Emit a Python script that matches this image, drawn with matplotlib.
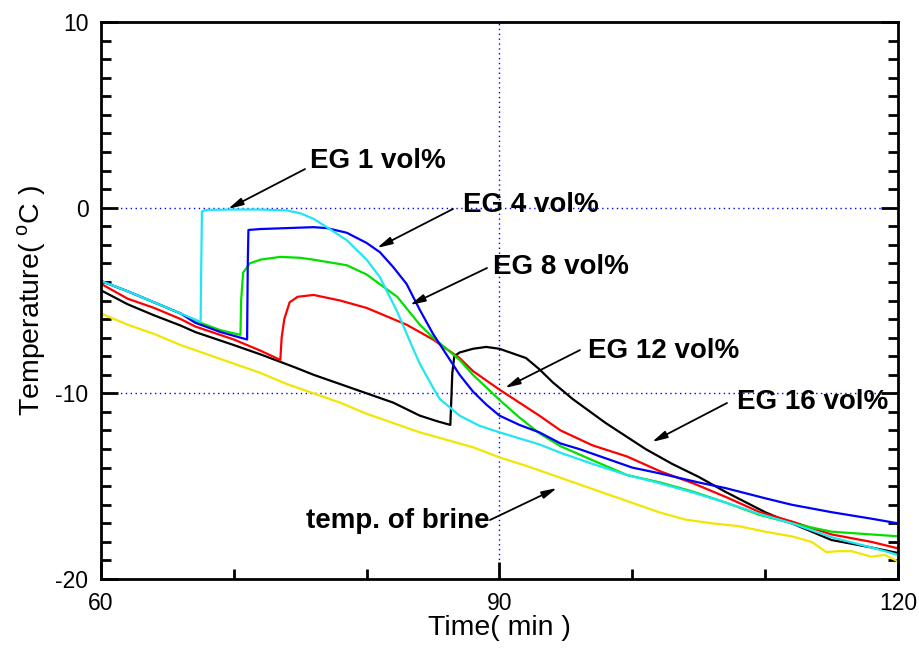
import matplotlib
matplotlib.use('Agg')
import matplotlib.pyplot as plt

plt.rcParams['font.family'] = ['Liberation Sans', 'DejaVu Sans']
plt.rcParams['mathtext.fontset'] = 'custom'
plt.rcParams['mathtext.rm'] = 'Liberation Sans'

# ----------------
#      DATA
# ----------------
# temp. of brine (yellow)
t_brine = [60, 62, 64, 66, 68, 70, 72, 74, 76, 78, 80, 82, 84, 86, 88, 90, 92, 94,
           96, 98, 100, 102, 104, 106, 108, 110, 112, 113.5, 114.6, 115.5, 116.5, 118, 119, 120]
T_brine = [-5.7, -6.3, -6.8, -7.4, -7.9, -8.4, -8.9, -9.5, -10.0, -10.5, -11.1, -11.6,
           -12.1, -12.5, -12.9, -13.45, -13.9, -14.4, -14.9, -15.4, -15.9, -16.4, -16.8,
           -17.0, -17.15, -17.45, -17.7, -18.0, -18.55, -18.5, -18.5, -18.8, -18.7, -19.05]

# EG 1 vol% (cyan)
t_eg1 = [60, 62, 64, 66, 67.5, 67.55, 67.6, 68, 70, 72, 74, 75, 76, 77, 78.5, 80, 81,
         82.3, 83.5, 84, 85, 85.5, 87, 88.5, 90, 93, 94.6, 97, 99.6, 102.1, 104.6,
         107.1, 109.6, 112, 115, 118, 120]
T_eg1 = [-3.95, -4.5, -5.1, -5.7, -6.15, -3.0, -0.2, -0.12, -0.1, -0.1, -0.15, -0.3,
         -0.6, -1.05, -1.75, -2.8, -3.75, -5.6, -7.6, -8.4, -9.7, -10.3, -11.2, -11.75,
         -12.1, -12.75, -13.2, -13.8, -14.4, -14.85, -15.35, -15.9, -16.5, -17.0, -17.75,
         -18.3, -18.7]

# EG 4 vol% (blue)
t_eg4 = [60, 62, 64, 66, 67.1, 69, 70, 71, 71.05, 71.1, 72, 74, 76, 77, 78.5, 80, 81,
         82, 83, 84, 85, 86, 87, 88, 89, 90, 91.5, 93, 94.6, 96, 98, 100, 102, 105, 107,
         110, 112, 115, 118, 120]
T_eg4 = [-3.95, -4.5, -5.1, -5.7, -6.2, -6.7, -6.9, -7.1, -3.0, -1.2, -1.15, -1.1,
         -1.05, -1.1, -1.35, -1.9, -2.4, -3.2, -4.1, -5.5, -6.8, -7.9, -9.0, -9.9, -10.6,
         -11.2, -11.7, -12.1, -12.7, -13.0, -13.5, -14.0, -14.3, -14.8, -15.1, -15.65,
         -16.0, -16.4, -16.75, -17.0]

# EG 8 vol% (green)
t_eg8 = [60, 62, 64, 66, 67.1, 69, 70.5, 70.55, 70.7, 71.2, 72, 73.5, 75, 76, 78.5, 80,
         82.3, 84, 85, 87, 88, 90, 91.5, 93, 94.6, 97, 99.6, 102.1, 104.6, 107.1, 109.6,
         112, 115, 118, 120]
T_eg8 = [-3.95, -4.5, -5.1, -5.7, -6.1, -6.6, -6.85, -5.0, -3.5, -3.0, -2.8, -2.65,
         -2.7, -2.8, -3.1, -3.6, -4.8, -6.3, -7.0, -8.2, -9.0, -10.35, -11.3, -12.15,
         -12.85, -13.6, -14.4, -14.8, -15.3, -15.9, -16.55, -17.0, -17.45, -17.6, -17.7]

# EG 12 vol% (red)
t_eg12 = [60, 62, 64, 66, 67.1, 70, 72, 73.5, 73.6, 73.8, 74.2, 74.8, 76, 78, 80, 81, 83,
          84, 85, 87, 88, 90, 93, 94.6, 97, 99.6, 102.1, 104.6, 107.1, 109.6, 112, 115,
          118, 120]
T_eg12 = [-4.1, -4.9, -5.4, -6.0, -6.4, -7.1, -7.7, -8.2, -7.0, -6.0, -5.1, -4.8, -4.7,
          -5.0, -5.4, -5.7, -6.3, -6.7, -7.1, -8.1, -8.8, -9.8, -11.2, -12.0, -12.8,
          -13.4, -14.2, -14.85, -15.6, -16.4, -16.9, -17.6, -18.0, -18.35]

# EG 16 vol% (black)
t_eg16 = [60, 62, 64, 66, 67.1, 70, 72, 74.6, 76, 78, 80, 82, 84, 85.3, 86.3, 86.45, 86.6,
          87, 88, 89, 90, 92, 93, 94, 95.5, 98, 101, 103, 105, 107, 110, 112, 115, 118, 120]
T_eg16 = [-4.45, -5.2, -5.8, -6.35, -6.7, -7.4, -7.9, -8.6, -9.0, -9.5, -10.0, -10.5,
          -11.2, -11.5, -11.7, -8.9, -8.0, -7.8, -7.6, -7.5, -7.6, -8.1, -8.7, -9.4, -10.3,
          -11.6, -13.0, -13.8, -14.5, -15.3, -16.4, -17.0, -17.9, -18.3, -18.6]

# labels: text, text anchor, arrow start, arrow tip
labels = ['EG 1 vol%', 'EG 4 vol%', 'EG 8 vol%', 'EG 12 vol%', 'EG 16 vol%', 'temp. of brine']
text_pos = [(75.73, 2.5), (87.25, 0.12), (89.51, -3.17), (96.66, -7.74), (107.88, -10.49), (89.29, -16.9)]
arrow_from = [(75.36, 2.08), (86.5, -0.07), (89.06, -3.25), (96.06, -7.67), (107.13, -10.52), (89.29, -16.82)]
arrow_to = [(69.56, -0.07), (80.78, -2.17), (83.26, -5.24), (90.41, -9.71), (101.48, -12.62), (94.33, -15.1)]

# ----------------
#      PLOT
# ----------------
fig = plt.figure(figsize=(9.19, 6.53), dpi=100)
ax = fig.add_axes([0.1099, 0.1133, 0.8672, 0.853])

# dotted grid at the interior major ticks
for yv in [0, -10]:
    ax.axhline(yv, color='#0000ff', lw=1, ls=(0, (1, 2.5)), zorder=1)
ax.axvline(90, color='#0000ff', lw=1, ls=(0, (1, 2.5)), zorder=1)

lw = 1.6
ax.plot(t_brine, T_brine, color='#f2e600', lw=lw)
ax.plot(t_eg16, T_eg16, color='black', lw=lw)
ax.plot(t_eg12, T_eg12, color='#ff0000', lw=lw)
ax.plot(t_eg8, T_eg8, color='#00e000', lw=lw)
ax.plot(t_eg4, T_eg4, color='#0000ff', lw=lw)
ax.plot(t_eg1, T_eg1, color='#22e5f2', lw=lw)

for i in range(len(labels)):
    ha = 'right' if labels[i].startswith('temp') else 'left'
    ax.text(text_pos[i][0], text_pos[i][1], labels[i], ha=ha, va='center',
            fontsize=20, fontweight='bold')
    ax.annotate('', xy=arrow_to[i], xytext=arrow_from[i],
                arrowprops=dict(arrowstyle='-|>,head_length=0.9,head_width=0.22',
                                color='black', lw=1.3, shrinkA=0, shrinkB=0))

ax.set_xlim(60, 120)
ax.set_ylim(-20, 10)
ax.set_xticks([60, 90, 120])
ax.set_xticks([70, 80, 100, 110], minor=True)
ax.set_yticks([-20, -10, 0, 10])
ax.set_yticks([v for v in range(-19, 10) if v % 10 != 0], minor=True)
ax.set_yticklabels(['-20', '-10', '0', '10'])

ax.tick_params(which='both', direction='in', width=2, labelsize=16.5,
               left=True, right=True, top=False, bottom=True)
ax.tick_params(which='major', length=12)
ax.tick_params(which='minor', length=7)
ax.tick_params(axis='x', pad=9)
ax.tick_params(axis='y', pad=9)
for s in ax.spines.values():
    s.set_linewidth(2)

ax.set_xlabel('Time( min )', fontsize=20.5, labelpad=0)
ax.set_ylabel(r'Temperature( $^{\rm o}$C )', fontsize=20.5, labelpad=5)

fig.savefig('out.png', dpi=100)
